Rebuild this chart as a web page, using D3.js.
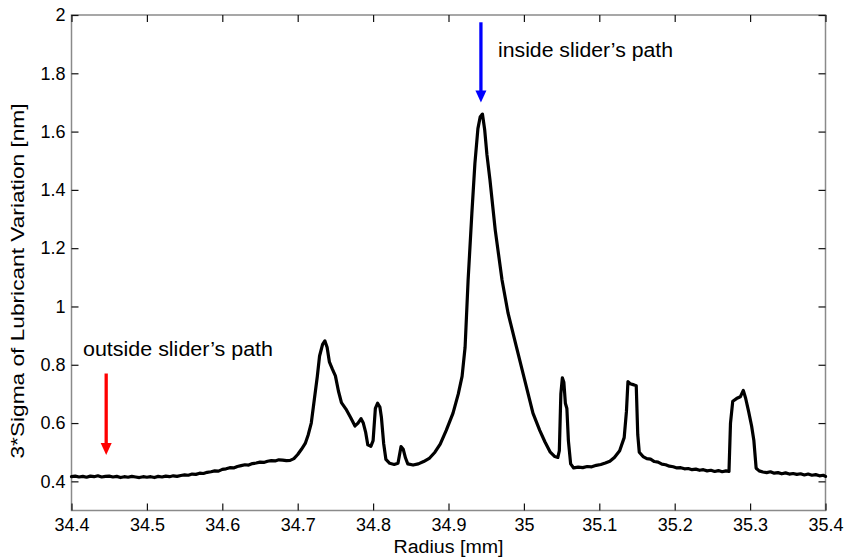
<!DOCTYPE html>
<html>
<head>
<meta charset="utf-8">
<script src="https://cdn.jsdelivr.net/npm/d3@7"></script>
<style>
  html, body { margin: 0; padding: 0; background: #fff; }
  svg { display: block; }
  text { font-family: Arial, "Liberation Sans", Helvetica, sans-serif; fill: #000; }
</style>
</head>
<body>
<svg id="chart" width="846" height="558"></svg>
<script>
const radius = [
  34.400, 34.405, 34.410, 34.415, 34.420, 34.425, 34.430, 34.435, 34.440, 34.445,
  34.450, 34.455, 34.460, 34.465, 34.470, 34.475, 34.480, 34.485, 34.490, 34.495,
  34.500, 34.505, 34.510, 34.515, 34.520, 34.525, 34.530, 34.535, 34.540, 34.545,
  34.550, 34.555, 34.560, 34.565, 34.570, 34.575, 34.580, 34.585, 34.590, 34.595,
  34.600, 34.605, 34.610, 34.615, 34.620, 34.625, 34.630, 34.635, 34.640, 34.645,
  34.650, 34.655, 34.660, 34.665, 34.670, 34.675, 34.680, 34.685, 34.690,
  34.695, 34.700, 34.705, 34.710, 34.714, 34.718, 34.722, 34.726, 34.729, 34.733,
  34.736, 34.739, 34.742, 34.746, 34.750, 34.754, 34.758, 34.764, 34.770, 34.776,
  34.780, 34.784, 34.787, 34.790, 34.793, 34.797, 34.800, 34.803, 34.806, 34.809,
  34.811, 34.814, 34.817, 34.822, 34.828, 34.833, 34.837, 34.840, 34.843, 34.846,
  34.853, 34.860, 34.867, 34.875, 34.882, 34.889, 34.897, 34.906, 34.913, 34.918,
  34.922, 34.926, 34.931, 34.935, 34.939, 34.942, 34.945, 34.948, 34.951, 34.955,
  34.962, 34.971, 34.979, 34.990, 35.001, 35.012, 35.021, 35.028, 35.035, 35.041,
  35.045, 35.047, 35.049, 35.051, 35.053, 35.055, 35.057, 35.059, 35.062, 35.066,
  35.072, 35.078, 35.084, 35.090, 35.096, 35.102, 35.108, 35.114, 35.120, 35.127,
  35.133, 35.136, 35.138, 35.141, 35.146, 35.149, 35.151, 35.153, 35.158, 35.163,
  35.168, 35.173, 35.178, 35.183, 35.188, 35.193, 35.198, 35.203, 35.208, 35.213,
  35.218, 35.223, 35.228, 35.233, 35.238, 35.243, 35.248, 35.253, 35.258, 35.263,
  35.268, 35.272, 35.274, 35.277, 35.282, 35.287, 35.291, 35.294, 35.298, 35.302,
  35.305, 35.308, 35.312, 35.317, 35.322, 35.327, 35.332, 35.337, 35.342, 35.347,
  35.352, 35.357, 35.362, 35.367, 35.372, 35.377, 35.382, 35.387, 35.392, 35.397,
  35.400
];
const sigma = [
  0.416, 0.418, 0.415, 0.417, 0.414, 0.418, 0.416, 0.419, 0.415, 0.417,
  0.418, 0.415, 0.417, 0.413, 0.416, 0.414, 0.417, 0.415, 0.413, 0.416,
  0.414, 0.416, 0.413, 0.417, 0.415, 0.418, 0.416, 0.419, 0.417, 0.420,
  0.422, 0.421, 0.425, 0.424, 0.428, 0.427, 0.431, 0.433, 0.436, 0.435,
  0.441, 0.443, 0.447, 0.446, 0.451, 0.454, 0.457, 0.456, 0.461, 0.463,
  0.466, 0.465, 0.469, 0.471, 0.470, 0.474, 0.473, 0.471, 0.472,
  0.478, 0.492, 0.510, 0.530, 0.560, 0.600, 0.680, 0.760, 0.830, 0.870,
  0.882, 0.860, 0.810, 0.785, 0.762, 0.710, 0.670, 0.648, 0.620, 0.590,
  0.600, 0.615, 0.600, 0.570, 0.525, 0.520, 0.540, 0.650, 0.668, 0.655,
  0.620, 0.530, 0.475, 0.462, 0.458, 0.462, 0.519, 0.510, 0.480, 0.460,
  0.456, 0.460, 0.468, 0.480, 0.500, 0.528, 0.575, 0.634, 0.700, 0.760,
  0.860, 1.090, 1.320, 1.490, 1.610, 1.650, 1.660, 1.606, 1.520, 1.434,
  1.262, 1.091, 0.977, 0.862, 0.748, 0.634, 0.575, 0.535, 0.500, 0.485,
  0.482, 0.505, 0.700, 0.755, 0.740, 0.668, 0.650, 0.540, 0.460, 0.446,
  0.449, 0.447, 0.451, 0.450, 0.455, 0.458, 0.463, 0.469, 0.482, 0.505,
  0.550, 0.640, 0.742, 0.735, 0.731, 0.728, 0.560, 0.500, 0.485, 0.478,
  0.476, 0.468, 0.466, 0.459, 0.457, 0.452, 0.450, 0.446, 0.447, 0.443,
  0.444, 0.440, 0.442, 0.438, 0.440, 0.436, 0.438, 0.434, 0.437, 0.433,
  0.436, 0.434, 0.600, 0.675, 0.684, 0.690, 0.712, 0.686, 0.640, 0.590,
  0.540, 0.445, 0.436, 0.432, 0.430, 0.433, 0.428, 0.430, 0.426, 0.429,
  0.425, 0.427, 0.424, 0.426, 0.422, 0.425, 0.421, 0.423, 0.419, 0.421,
  0.417
];
const xTicks = [34.4, 34.5, 34.6, 34.7, 34.8, 34.9, 35.0, 35.1, 35.2, 35.3, 35.4];
const yTicks = [0.4, 0.6, 0.8, 1.0, 1.2, 1.4, 1.6, 1.8, 2.0];
const xDomain = [34.4, 35.4];
const yDomain = [0.3, 2.0];
const xTitle = "Radius [mm]";
const yTitle = "3*Sigma of Lubricant Variation [nm]";
const annotations = [
  { text: "inside slider\u2019s path", r: 34.943, from: 1.975, to: 1.7, color: "#0000ff" },
  { text: "outside slider\u2019s path", r: 34.446, from: 0.77, to: 0.49, color: "#ff0000" }
];

const svg = d3.select("#chart");
const m = { left: 71.5, right: 825.5, top: 15, bottom: 510.5 };
const x = d3.scaleLinear().domain(xDomain).range([m.left, m.right]);
const y = d3.scaleLinear().domain(yDomain).range([m.bottom, m.top]);
const fmt = d => String(+d.toFixed(1));
const tickLen = 7;

// box
svg.append("rect")
  .attr("x", m.left).attr("y", m.top)
  .attr("width", m.right - m.left).attr("height", m.bottom - m.top)
  .attr("fill", "none").attr("stroke", "#8a8a8a").attr("stroke-width", 1.5);

function styleAxis(g) {
  g.select(".domain").remove();
  g.selectAll(".tick line").attr("stroke", "#111").attr("stroke-width", 1.2);
}

// bottom
const gx = svg.append("g").attr("transform", `translate(0,${m.bottom})`)
  .call(d3.axisBottom(x).tickValues(xTicks).tickFormat(fmt).tickSize(-tickLen).tickPadding(12))
  .call(styleAxis);
gx.selectAll(".tick text").attr("font-size", 18).attr("font-family", "Arial, 'Liberation Sans', sans-serif")
  .attr("fill", "#000").attr("dy", "0.71em").attr("y", 8);
// top
svg.append("g").attr("transform", `translate(0,${m.top})`)
  .call(d3.axisTop(x).tickValues(xTicks).tickFormat("").tickSize(-tickLen))
  .call(styleAxis);
// left
const gy = svg.append("g").attr("transform", `translate(${m.left},0)`)
  .call(d3.axisLeft(y).tickValues(yTicks).tickFormat(fmt).tickSize(-tickLen).tickPadding(7))
  .call(styleAxis);
gy.selectAll(".tick text").attr("font-size", 18).attr("font-family", "Arial, 'Liberation Sans', sans-serif")
  .attr("fill", "#000").attr("x", -6);
// right
svg.append("g").attr("transform", `translate(${m.right},0)`)
  .call(d3.axisRight(y).tickValues(yTicks).tickFormat("").tickSize(-tickLen))
  .call(styleAxis);

// data line
const pts = radius.map((r, i) => [r, sigma[i]]);
svg.append("path")
  .datum(pts)
  .attr("fill", "none")
  .attr("stroke", "#000")
  .attr("stroke-width", 3.2)
  .attr("stroke-linejoin", "round")
  .attr("stroke-linecap", "round")
  .attr("d", d3.line().x(d => x(d[0])).y(d => y(d[1])));

// titles
svg.append("text")
  .attr("x", (m.left + m.right) / 2).attr("y", 553)
  .attr("text-anchor", "middle").attr("font-size", 18)
  .attr("textLength", 110).attr("lengthAdjust", "spacingAndGlyphs")
  .text(xTitle);
svg.append("text")
  .attr("transform", `translate(24,281) rotate(-90)`)
  .attr("text-anchor", "middle").attr("font-size", 18)
  .attr("textLength", 355).attr("lengthAdjust", "spacingAndGlyphs")
  .text(yTitle);

// arrows
annotations.forEach(a => {
  const ax = x(a.r), y0 = y(a.from), y1 = y(a.to);
  const head = 12, hw = 5.5;
  svg.append("line")
    .attr("x1", ax).attr("x2", ax).attr("y1", y0).attr("y2", y1 - head + 1)
    .attr("stroke", a.color).attr("stroke-width", 3.3);
  svg.append("path")
    .attr("d", `M${ax - hw},${y1 - head} L${ax + hw},${y1 - head} L${ax},${y1} Z`)
    .attr("fill", a.color);
});

svg.append("text")
  .attr("x", 498).attr("y", 57)
  .attr("font-size", 20)
  .attr("textLength", 175).attr("lengthAdjust", "spacingAndGlyphs")
  .text(annotations[0].text);
svg.append("text")
  .attr("x", 83).attr("y", 356)
  .attr("font-size", 20)
  .attr("textLength", 190).attr("lengthAdjust", "spacingAndGlyphs")
  .text(annotations[1].text);
</script>
</body>
</html>
